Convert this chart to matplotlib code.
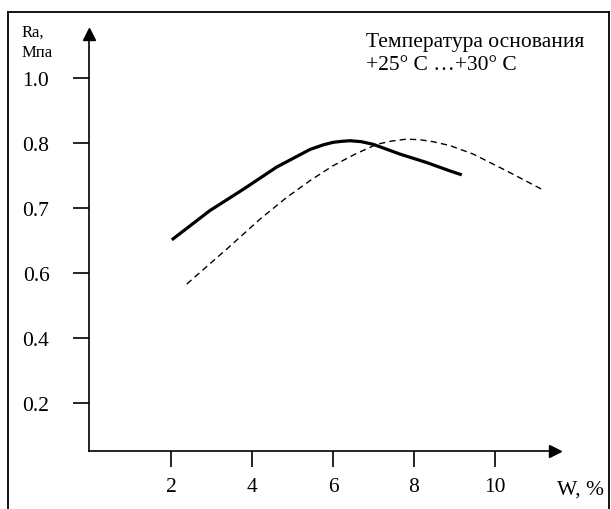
import numpy as np
import matplotlib
matplotlib.use("Agg")
import matplotlib.pyplot as plt
from matplotlib.lines import Line2D

plt.rcParams['font.family'] = ['Liberation Serif', 'DejaVu Serif']

# solid curve (thick)
w_solid = [2.02, 2.96, 3.79, 4.61, 5.43, 5.75, 6.0, 6.2, 6.42, 6.7, 6.99, 7.3, 7.65, 8.31, 8.89, 9.18]
ra_solid = [0.651, 0.696, 0.729, 0.763, 0.790, 0.797, 0.802, 0.805, 0.807, 0.804, 0.798, 0.791,
            0.783, 0.770, 0.757, 0.751]

# dashed curve
w_dash = [2.39, 3.38, 4.20, 4.85, 5.43, 6.0, 6.55, 7.08, 7.45, 7.82, 8.15, 8.47, 8.89, 9.46, 10.29, 11.15]
ra_dash = [0.566, 0.637, 0.683, 0.716, 0.742, 0.765, 0.783, 0.798, 0.806, 0.812, 0.810, 0.804,
           0.796, 0.783, 0.757, 0.729]

x_ticks = [2, 4, 6, 8, 10]
y_ticks = [0.2, 0.4, 0.6, 0.7, 0.8, 1.0]
y_tick_labels = ["0.2", "0.4", "0.6", "0.7", "0.8", "1.0"]

# the y axis is not linear: labels are equally spaced
scale_vals = [0.0, 0.2, 0.4, 0.6, 0.7, 0.8, 1.0, 1.2]
scale_pos = [0, 1, 2, 3, 4, 5, 6, 7]


def fwd(v):
    return np.interp(v, scale_vals, scale_pos)


def inv(p):
    return np.interp(p, scale_pos, scale_vals)


fig = plt.figure(figsize=(6.11, 5.10), dpi=100)
W, H = 611, 510
left, bottom, right, top = 89, 452, 555, 35
ax = fig.add_axes([left / W, (H - bottom) / H, (right - left) / W, (bottom - top) / H])

ax.set_yscale('function', functions=(fwd, inv))
ax.set_xlim((left - 90) / 40.5, (right - 90) / 40.5)
ax.set_ylim(inv(1 - (bottom - 404) / 65), inv(1 + (404 - top) / 65))

ax.plot(w_solid, ra_solid, color='black', lw=2.3, solid_capstyle='butt', solid_joinstyle='round')
ax.plot(w_dash, ra_dash, color='black', lw=1.0, dashes=(4.5, 3))

for s in ['top', 'right']:
    ax.spines[s].set_visible(False)
for s in ['left', 'bottom']:
    ax.spines[s].set_linewidth(1.2)

ax.plot(1, 0, '>k', ms=8, transform=ax.transAxes, clip_on=False)
ax.plot(0, 1, '^k', ms=8, transform=ax.transAxes, clip_on=False)

ax.set_xticks(x_ticks)
ax.set_xticklabels([str(t) for t in x_ticks])
ax.set_yticks(y_ticks)
ax.set_yticklabels(y_tick_labels)
ax.yaxis.set_minor_locator(matplotlib.ticker.NullLocator())
ax.tick_params(axis='both', direction='out', length=11.5, width=1.2, labelsize=15.5)
ax.tick_params(axis='y', pad=17)
ax.tick_params(axis='x', pad=7)

fig.text(22 / W, 1 - 25 / H, "Ra,\nМпа", fontsize=12, va='top', ha='left', linespacing=1.35)
fig.text(557 / W, 1 - 490 / H, "W, %", fontsize=15.5, va='center', ha='left')
fig.text(366 / W, 1 - 33 / H, "Температура основания\n+25° C …+30° C",
         fontsize=15.5, va='top', ha='left', linespacing=1.28)

# frame around the picture (no bottom edge)
fig.add_artist(Line2D([8 / W, 8 / W], [0, 1 - 13 / H], color='black', lw=1.3))
fig.add_artist(Line2D([8 / W, 609 / W], [1 - 13 / H, 1 - 13 / H], color='black', lw=1.3))
fig.add_artist(Line2D([609 / W, 609 / W], [0, 1 - 13 / H], color='black', lw=1.3))

fig.savefig("out.png", dpi=100)
